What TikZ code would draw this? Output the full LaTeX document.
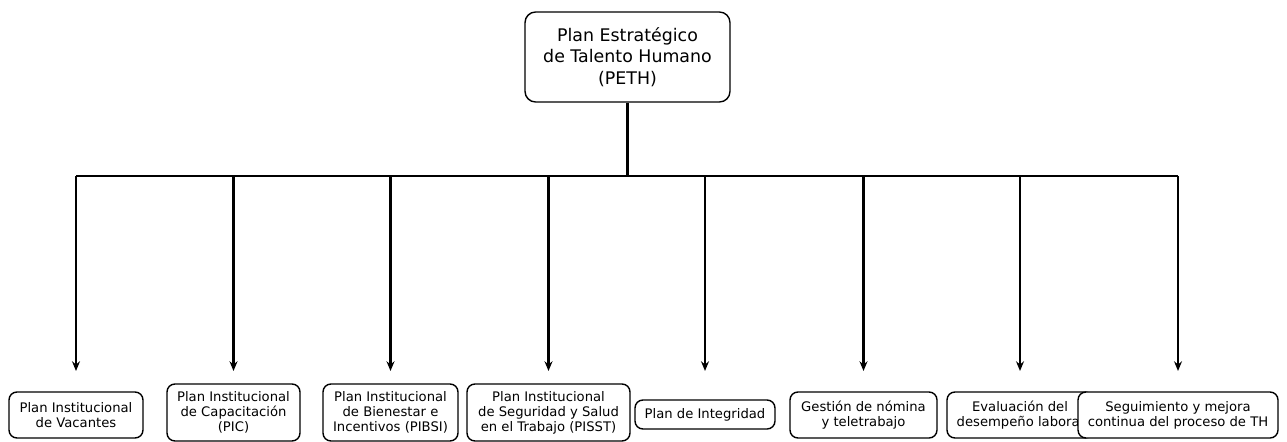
\documentclass[tikz,border=0pt]{standalone}
\usepackage{fontspec}
\setmainfont{DejaVu Sans}
\usepackage{tikz}
\usetikzlibrary{arrows.meta,positioning,calc}

\tikzset{
    topbox/.style={draw, line width=0.8pt, rounded corners=6pt, fill=white, align=center, inner sep=0pt, font=\fontsize{9.9}{12.2}\selectfont},
    planbox/.style={draw, line width=0.8pt, rounded corners=4.5pt, fill=white, align=center, inner sep=0pt, font=\fontsize{7.5}{8.6}\selectfont},
    branch/.style={line width=1.3pt},
    drop/.style={line width=1.3pt, -{Stealth[length=5.5pt, width=4.5pt]}}
}

\begin{document}
\begin{tikzpicture}[x=0.02cm, y=-0.02cm]
    \useasboundingbox (0,0) rectangle (1287,442);

    % Central node
    \node[topbox, minimum width=4.1cm, minimum height=1.8cm] (peth) at (627.5,57) {Plan Estratégico\\de Talento Humano\\(PETH)};

    % Plans
    \node[planbox, minimum width=2.68cm, minimum height=0.92cm] (vac) at (76,415) {Plan Institucional\\de Vacantes};
    \node[planbox, minimum width=2.66cm, minimum height=1.14cm] (pic) at (233.5,412.5) {Plan Institucional\\de Capacitación\\(PIC)};
    \node[planbox, minimum width=2.7cm, minimum height=1.14cm] (pibsi) at (390.5,412.5) {Plan Institucional\\de Bienestar e\\Incentivos (PIBSI)};
    \node[planbox, minimum width=3.26cm, minimum height=1.14cm] (pisst) at (548.5,412.5) {Plan Institucional\\de Seguridad y Salud\\en el Trabajo (PISST)};
    \node[planbox, minimum width=2.8cm, minimum height=0.58cm] (integ) at (705,414.5) {Plan de Integridad};
    \node[planbox, minimum width=2.94cm, minimum height=0.92cm] (nom) at (863.5,415) {Gestión de nómina\\y teletrabajo};
    \node[planbox, minimum width=2.92cm, minimum height=0.92cm] (eval) at (1020,415) {Evaluación del\\desempeño laboral};
    \node[planbox, minimum width=4cm, minimum height=0.92cm] (seg) at (1178,415) {Seguimiento y mejora\\continua del proceso de TH};

    % Branch line
    \coordinate (bar) at (627.5,176);
    \coordinate (tip) at (627.5,371);
    \draw[branch] (peth.south) -- (bar);
    \draw[branch] (vac|-bar) -- (seg|-bar);

    % Arrows
    \foreach \n in {vac,pic,pibsi,pisst,integ,nom,eval,seg}
        \draw[drop] (\n|-bar) -- (\n|-tip);
\end{tikzpicture}
\end{document}
